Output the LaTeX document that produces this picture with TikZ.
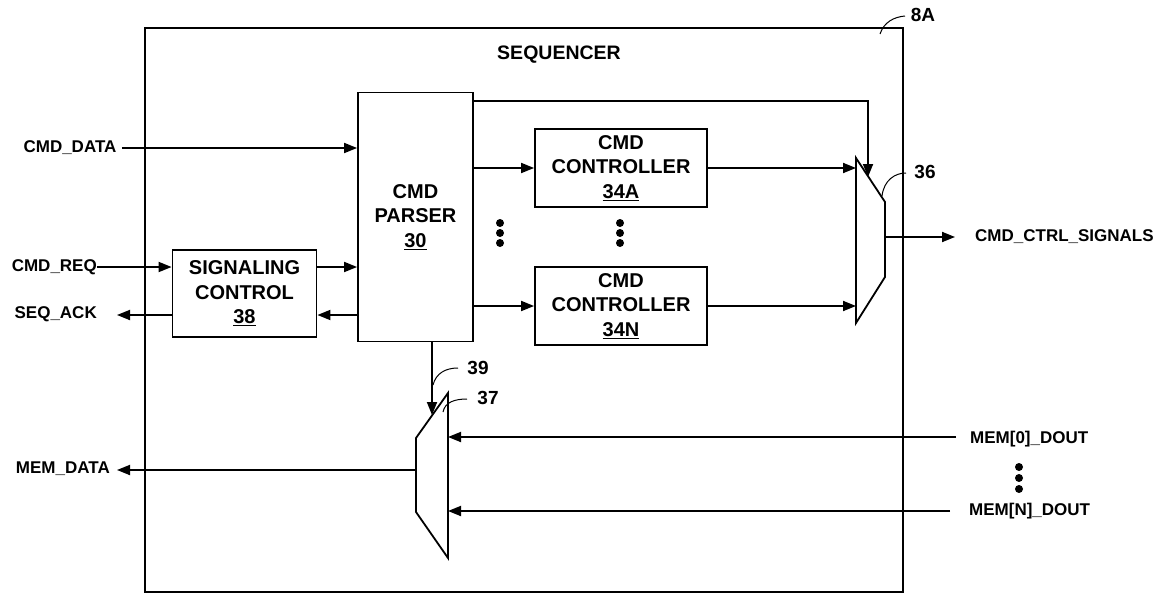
\documentclass[tikz,border=0pt]{standalone}
\usepackage{fontspec}
\setmainfont{Liberation Sans}
\usetikzlibrary{arrows.meta}
\begin{document}
\begin{tikzpicture}[x=1pt,y=-1pt,
  every node/.style={font=\fontsize{17}{24}\selectfont\bfseries},
  blk/.style={draw,line width=1.8pt,align=center,inner sep=0pt,font=\fontsize{20}{24.5}\selectfont\bfseries},
  wire/.style={line width=1.8pt},
  arr/.style={wire,-{Triangle[length=13pt,width=10pt]}},
  lead/.style={line width=1pt},
  lbl/.style={inner sep=1pt,font=\fontsize{19}{22}\selectfont\bfseries}]
\useasboundingbox (0,0) rectangle (1163,594);
% outer box
\draw[wire] (145,28) rectangle (903,592);
\node[font=\fontsize{19.5}{22}\selectfont\bfseries] (seq) at (559,55) {SEQUENCER};
\node[lbl] (l8a) at (923,15) {8A};
\draw[lead] (880,34) .. controls (884,22) and (894,17) .. (905,16);
% parser
\node[blk,minimum width=115pt,minimum height=249pt] (par) at (415.5,217) {CMD\\PARSER\\\underline{30}};
% controllers
\node[blk,minimum width=172pt,minimum height=78pt] (ca) at (621,168) {CMD\\CONTROLLER\\\underline{34A}};
\node[blk,minimum width=172pt,minimum height=78pt] (cn) at (621,306) {CMD\\CONTROLLER\\\underline{34N}};
% signaling
\node[blk,minimum width=144pt,minimum height=87pt] (sig) at (244.5,293.5) {SIGNALING\\CONTROL\\\underline{38}};
% dots
\foreach \x in {500,620}{\foreach \y in {223,233,243}{\fill (\x,\y) circle (4pt);}}
\foreach \y in {467,478,489}{\fill (1019,\y) circle (4pt);}
% mux 36
\coordinate (m36a) at (856,158);
\coordinate (m36b) at (885,202);
\coordinate (m36c) at (885,277);
\coordinate (m36d) at (856,323);
\draw[wire,line join=miter] (m36a) -- (m36b) -- (m36c) -- (m36d) -- cycle;
\node[lbl] (l36) at (925,172) {36};
\draw[lead] (882,196) .. controls (884,180) and (895,173) .. (906,173);
% mux 37
\coordinate (m37a) at (448,393);
\coordinate (m37b) at (448,558);
\coordinate (m37c) at (416,512);
\coordinate (m37d) at (416,438);
\draw[wire,line join=miter] (m37a) -- (m37b) -- (m37c) -- (m37d) -- cycle;
\node[lbl] (l39) at (478,368) {39};
\draw[lead] (433,385) .. controls (436,373) and (446,368) .. (458,368);
\node[lbl] (l37) at (488,398) {37};
\draw[lead] (443,412) .. controls (445,402) and (455,399) .. (467,399);
% inputs left
\node (cmddata) at (70,148) {CMD\_DATA};
\draw[arr] (cmddata.east) ++(2,0) coordinate (cdx) -- (cdx -| par.west);
\node[anchor=east,inner sep=0pt] (cmdreq) at (97,267) {CMD\_REQ};
\draw[arr] (cmdreq.east) -- (cmdreq.east -| sig.west);
\node[anchor=east,inner sep=0pt] (seqack) at (97,314) {SEQ\_ACK};
\coordinate (sak) at (117,315);
\draw[arr] (sig.west |- sak) -- (sak);
\draw[arr] (sig.east |- 0,267) -- (par.west |- 0,267);
\draw[arr] (par.west |- 0,315) -- (sig.east |- 0,315);
% parser to controllers
\draw[arr] (par.east |- ca) -- (ca.west);
\draw[arr] (par.east |- cn) -- (cn.west);
% controllers to mux
\draw[arr] (ca.east) -- (856,168);
\draw[arr] (cn.east) -- (856,306);
% parser top to mux sel
\coordinate (t1) at (868,101);
\draw[arr] (par.east |- t1) -- (t1) -- (868,177);
% mux output
\coordinate (out36) at (955,237);
\draw[arr] (885,237) -- (out36);
\node[anchor=west,inner sep=0pt] (ccs) at (975,237) {CMD\_CTRL\_SIGNALS};
% parser down to mux 37
\draw[arr] (432,341) -- (432,415);
% mem data out
\coordinate (md) at (117,470);
\draw[arr] (416,470) -- (md);
\node[anchor=east,inner sep=0pt] (memdata) at (110,469) {MEM\_DATA};
% mem inputs
\node[anchor=west,inner sep=0pt] (m0) at (970,439) {MEM[0]\_DOUT};
\node[anchor=west,inner sep=0pt] (mn) at (969,511) {MEM[N]\_DOUT};
\draw[arr] (956,437) -- (448,437);
\draw[arr] (950,511) -- (448,511);
\end{tikzpicture}
\end{document}
